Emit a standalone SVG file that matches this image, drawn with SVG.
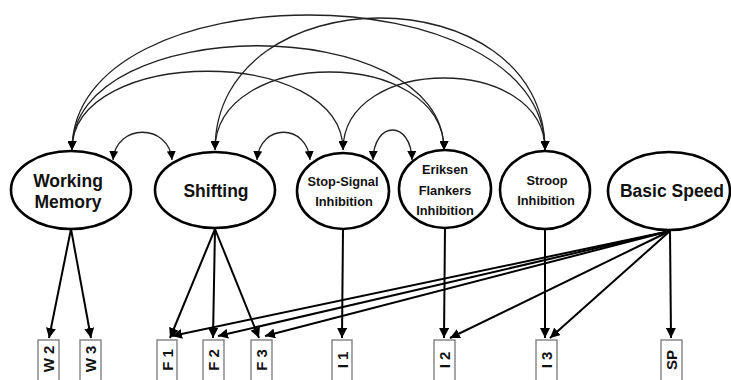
<svg xmlns="http://www.w3.org/2000/svg" width="731" height="380" viewBox="0 0 731 380">
<style>
.lat{fill:#fff;stroke:#000;stroke-width:2.6}
.box{fill:#fff;stroke:#777;stroke-width:1.3}
.t{font-family:"Liberation Sans",Arial,Helvetica,sans-serif;font-weight:bold;fill:#111;text-anchor:middle}
.big{font-size:17.5px}
.sm{font-size:12.8px}
.bx{font-size:15px}
.ld{fill:none;stroke:#000;stroke-width:2;marker-end:url(#ah)}
.cov{fill:none;stroke:#222;stroke-width:1.3;marker-start:url(#ac);marker-end:url(#ac)}
</style>
<defs>
<marker id="ah" viewBox="0 0 10 10" refX="10" refY="5" markerWidth="10" markerHeight="10" markerUnits="userSpaceOnUse" orient="auto"><path d="M0,0L10,5L0,10z" fill="#000"/></marker>
<marker id="ac" viewBox="0 0 10 10" refX="10" refY="5" markerWidth="9" markerHeight="9" markerUnits="userSpaceOnUse" orient="auto-start-reverse"><path d="M0,0L10,5L0,10z" fill="#000"/></marker>
</defs>
<rect width="731" height="380" fill="#fff"/>
<g id="connectors">
<path class="cov" d="M72,150C72,-30 545,-30 545,150"/>
<path class="cov" d="M215,150C215,-26 545,-26 545,150"/>
<path class="cov" d="M72,150C72,11 444,11 444,150"/>
<path class="cov" d="M72,150C72,45 343,45 343,150"/>
<path class="cov" d="M215,150C215,46 444,46 444,150"/>
<path class="cov" d="M343,150C343,54 545,54 545,150"/>
<path class="cov" d="M113,160C116,123 169,123 172,160"/>
<path class="cov" d="M257,160C260,123 307,123 310,160"/>
<path class="cov" d="M373,160C374,120 411,120 412,160"/>
<path class="ld" d="M71,229L49,338"/>
<path class="ld" d="M71,229L91,338"/>
<path class="ld" d="M215,229L170,338"/>
<path class="ld" d="M215,229L213,338"/>
<path class="ld" d="M215,229L259,338"/>
<path class="ld" d="M343,229L342,338"/>
<path class="ld" d="M445,228L444,338"/>
<path class="ld" d="M545,229L545,338"/>
<path class="ld" d="M670,231L671,338"/>
<path class="ld" d="M670,231L550,338"/>
<path class="ld" d="M670,231L450,338"/>
<path class="ld" d="M670,231L265,336"/>
<path class="ld" d="M670,231L218,336"/>
<path class="ld" d="M670,231L172,336"/>
</g>
<g id="wm"><ellipse class="lat" cx="71" cy="190" rx="60" ry="39"/><text class="t big" x="68" y="187">Working</text><text class="t big" x="68" y="208">Memory</text></g>
<g id="shifting"><ellipse class="lat" cx="215" cy="190" rx="60" ry="38"/><text class="t big" x="216" y="197">Shifting</text></g>
<g id="stopsignal"><ellipse class="lat" cx="343" cy="191" rx="46" ry="38"/><text class="t sm" x="343" y="186">Stop-Signal</text><text class="t sm" x="344" y="206">Inhibition</text></g>
<g id="eriksen"><ellipse class="lat" cx="445" cy="189" rx="46" ry="39"/><text class="t sm" x="445" y="174">Eriksen</text><text class="t sm" x="445" y="195">Flankers</text><text class="t sm" x="445" y="215">Inhibition</text></g>
<g id="stroop"><ellipse class="lat" cx="545" cy="190" rx="45" ry="39"/><text class="t sm" x="547" y="185">Stroop</text><text class="t sm" x="546" y="205">Inhibition</text></g>
<g id="speed"><ellipse class="lat" cx="669" cy="191" rx="61" ry="39"/><text class="t big" x="672" y="197">Basic Speed</text></g>
<g id="w2"><rect class="box" x="38" y="340" width="21" height="45"/><text class="t bx" transform="translate(48.5,359) rotate(-90)" y="5.5">W 2</text></g>
<g id="w3"><rect class="box" x="80" y="340" width="21" height="45"/><text class="t bx" transform="translate(90.5,359) rotate(-90)" y="5.5">W 3</text></g>
<g id="f1"><rect class="box" x="157" y="340" width="20" height="45"/><text class="t bx" transform="translate(167,360) rotate(-90)" y="5.5">F 1</text></g>
<g id="f2"><rect class="box" x="203" y="340" width="21" height="45"/><text class="t bx" transform="translate(213.5,360) rotate(-90)" y="5.5">F 2</text></g>
<g id="f3"><rect class="box" x="251" y="340" width="21" height="45"/><text class="t bx" transform="translate(261.5,360) rotate(-90)" y="5.5">F 3</text></g>
<g id="i1"><rect class="box" x="332" y="340" width="20" height="45"/><text class="t bx" transform="translate(342,360) rotate(-90)" y="5.5">I 1</text></g>
<g id="i2"><rect class="box" x="434" y="340" width="21" height="45"/><text class="t bx" transform="translate(444.5,360) rotate(-90)" y="5.5">I 2</text></g>
<g id="i3"><rect class="box" x="536" y="340" width="21" height="45"/><text class="t bx" transform="translate(546.5,360) rotate(-90)" y="5.5">I 3</text></g>
<g id="sp"><rect class="box" x="661" y="340" width="21" height="45"/><text class="t bx" transform="translate(671.5,360) rotate(-90)" y="5.5">SP</text></g>
</svg>
